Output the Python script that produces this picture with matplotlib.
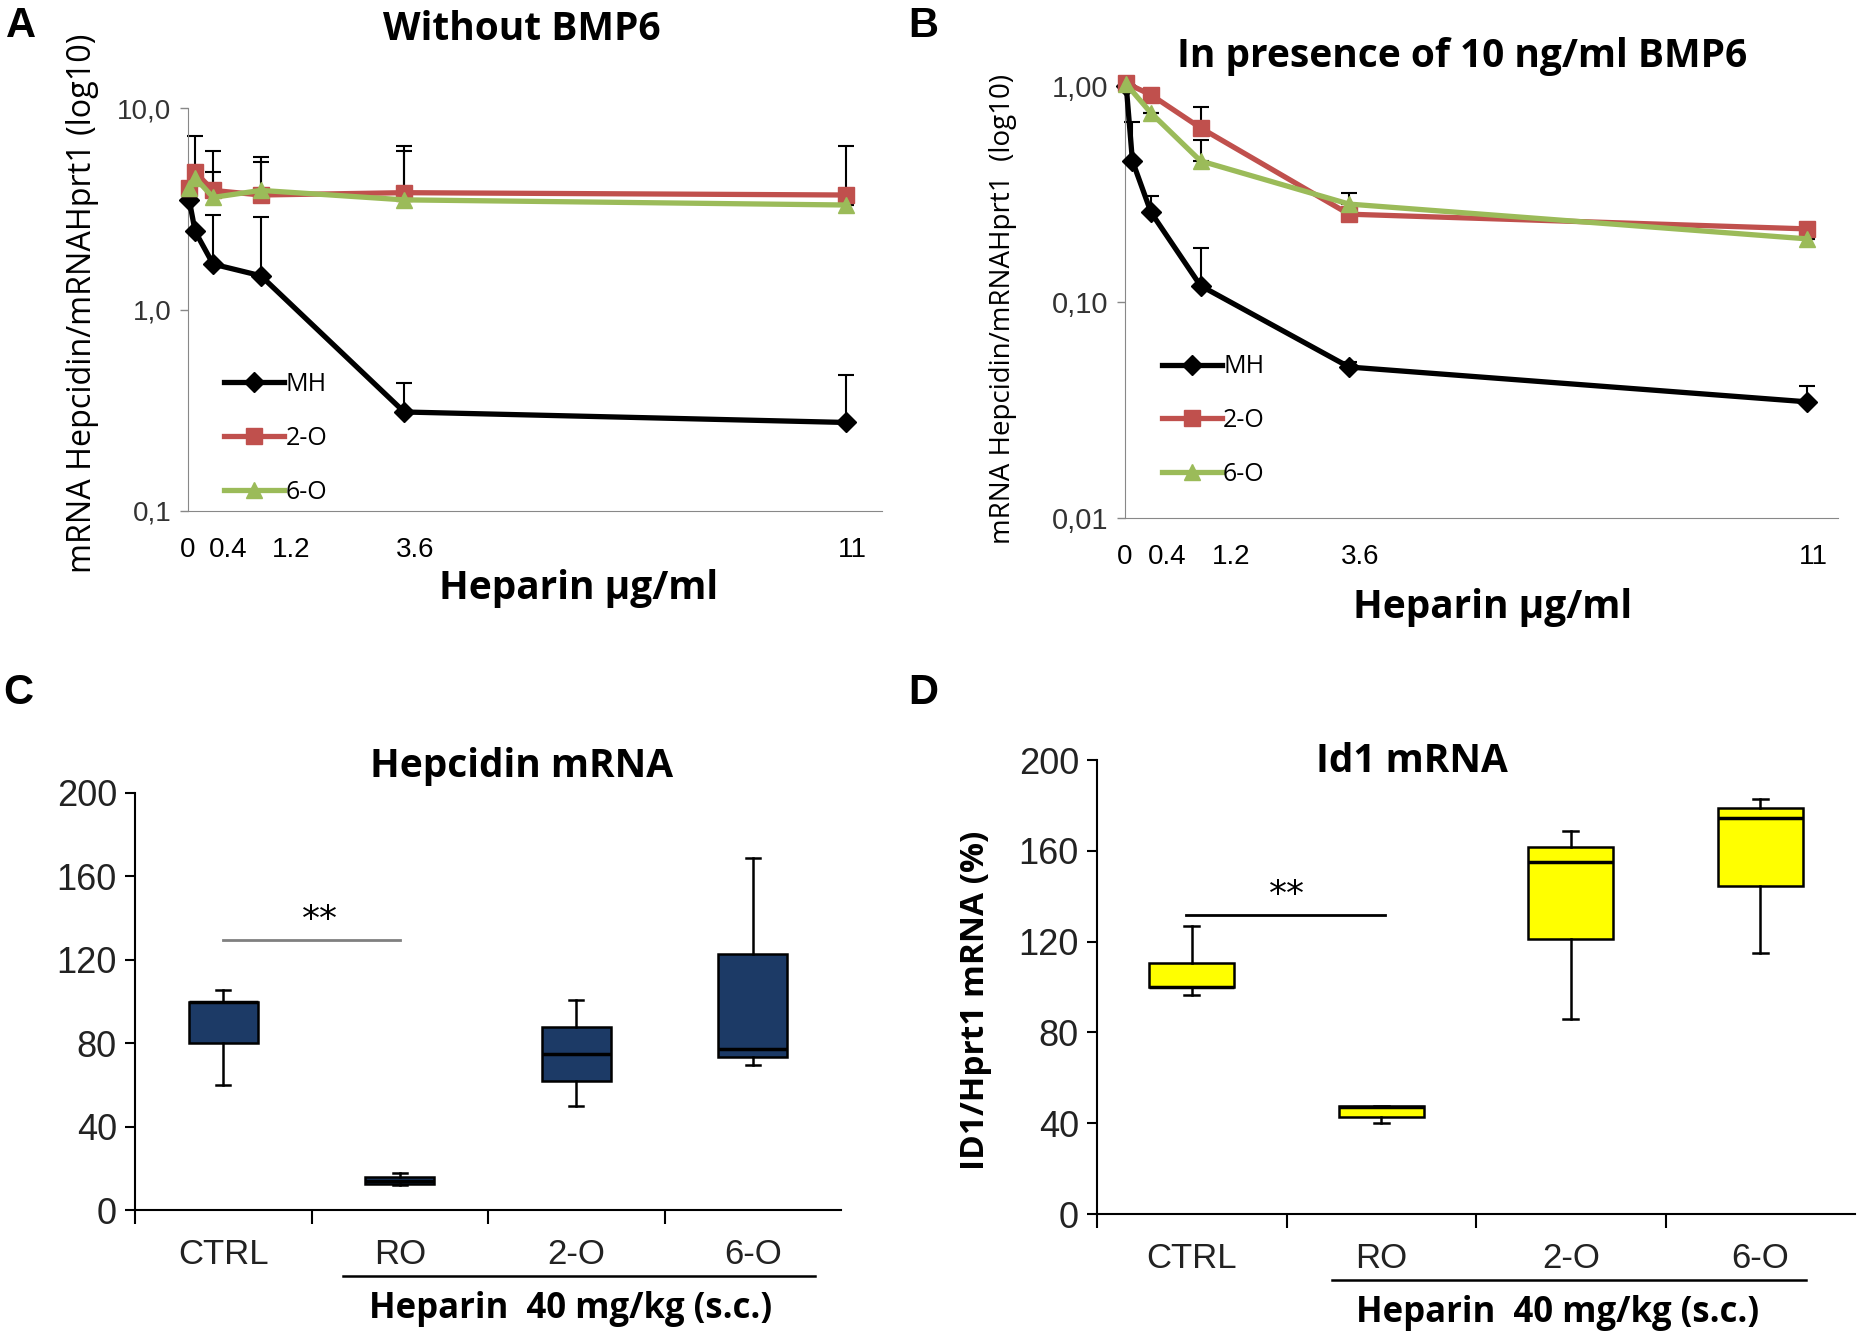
import matplotlib

matplotlib.use("Agg")
import matplotlib.pyplot as plt
import matplotlib.transforms as mtransforms
import numpy as np

# ---- panel A / B : dose response (log scale) ----
doses = [0, 0.1, 0.4, 1.2, 3.6, 11]
doses_b_mod = [0, 0.4, 1.2, 3.6, 11]
dose_labels = ["0", "0.4", "1.2", "3.6", "11"]
dose_label_pos = [-0.02, 0.66, 1.7, 3.78, 11.1]

a_mh = [3.5, 2.44, 1.68, 1.47, 0.31, 0.275]
a_mh_top = [np.nan, np.nan, 2.93, 2.89, 0.43, 0.475]
a_2o = [4.0, 4.8, 3.9, 3.7, 3.8, 3.7]
a_2o_top = [np.nan, 7.3, 6.15, 5.74, 6.5, 6.5]
a_6o = [4.0, 4.5, 3.6, 3.9, 3.5, 3.3]
a_6o_top = [np.nan, np.nan, 4.84, 5.42, 6.1, np.nan]

b_mh = [1.0, 0.45, 0.26, 0.119, 0.050, 0.0345]
b_mh_top = [np.nan, 0.68, 0.31, 0.178, 0.053, 0.041]
b_2o = [1.03, 0.91, 0.64, 0.255, 0.218]
b_2o_top = [np.nan, np.nan, 0.80, np.nan, np.nan]
b_6o = [1.02, 0.75, 0.45, 0.284, 0.196]
b_6o_top = [np.nan, np.nan, 0.56, 0.32, np.nan]

# ---- panel C / D : box plots ----
groups = ["CTRL", "RO", "2-O", "6-O"]
# whislo, q1, med, q3, whishi
c_stats = [(60, 80, 100, 100, 105.5), (12, 12.5, 14, 15.8, 17.7),
           (50, 62, 75, 88, 100.5), (69.5, 73.5, 77, 123, 169)]
d_stats = [(96.3, 100, 100, 110.4, 127), (40, 42.8, 47, 47.6, 47.6),
           (85.8, 121.3, 155.2, 161.8, 168.7), (115, 144.6, 174.4, 179, 182.8)]

W, H = 1861, 1343
NARROW = ["Liberation Sans Narrow", "Liberation Sans"]
TITLE = ["Open Sans", "DejaVu Sans"]
RED, GREEN = "#C0504D", "#9BBB59"


def px_axes(fig, left, right, top, bottom):
    return fig.add_axes([left / W, 1 - bottom / H, (right - left) / W, (bottom - top) / H])


def ftext(fig, x, y, s, **kw):
    fig.text(x / W, 1 - y / H, s, ha=kw.pop("ha", "center"), va=kw.pop("va", "center"), **kw)


def dose_panel(ax, mh, mh_top, o2, o2_top, o6, o6_top, x_mod, ylim, yticks, ylabels, xmax, yfs):
    series = [(doses, mh, mh_top, "k", "D", 10, "MH"),
              (x_mod, o2, o2_top, RED, "s", 11, "2-O"),
              (x_mod, o6, o6_top, GREEN, "^", 12, "6-O")]
    for x, y, top, col, mk, ms, lab in series:
        y = np.asarray(y)
        up = np.nan_to_num(np.asarray(top) - y, nan=0.0)
        ax.errorbar(x, y, yerr=[np.zeros_like(y), up], fmt="none", ecolor="k",
                    elinewidth=1.5, capsize=6, capthick=1.5, zorder=2, clip_on=False)
    for x, y, top, col, mk, ms, lab in series:
        ax.plot(x, y, color=col, lw=3.8, marker=mk, ms=ms, mec=col, mfc=col,
                label=lab, zorder=3, clip_on=False)
    ax.set_yscale("log")
    ax.set_ylim(*ylim)
    ax.set_xlim(0, xmax)
    ax.set_yticks(yticks)
    ax.set_yticklabels(ylabels, family=NARROW, fontsize=yfs, color="#333333")
    ax.minorticks_off()
    ax.set_xticks(dose_label_pos)
    ax.set_xticklabels(dose_labels, family=NARROW, fontsize=20)
    ax.tick_params(axis="x", length=0, pad=19)
    ax.tick_params(axis="y", length=6, width=1, color="#888888", pad=6)
    for s in ("top", "right"):
        ax.spines[s].set_visible(False)
    ax.spines["left"].set_color("#888888")
    ax.spines["bottom"].set_color("#888888")
    leg = ax.legend(loc="lower left", bbox_to_anchor=(0.02, -0.04), frameon=False,
                    labelspacing=1.15, handlelength=2.4, handletextpad=0.05,
                    prop={"family": TITLE, "size": 18})
    return leg


def box_panel(ax, stats, color, widths, caps):
    data = [dict(whislo=a, q1=b, med=c, q3=d, whishi=e, label=g)
            for (a, b, c, d, e), g in zip(stats, groups)]
    ax.bxp(data, positions=[1, 2, 3, 4], widths=widths, showfliers=False,
           patch_artist=True, capwidths=caps,
           boxprops=dict(facecolor=color, edgecolor="k", lw=1.8),
           medianprops=dict(color="k", lw=2.5),
           whiskerprops=dict(color="k", lw=1.8), capprops=dict(color="k", lw=1.8))
    ax.set_xlim(0.5, 4.5)
    ax.set_ylim(0, 200)
    ax.set_yticks([0, 40, 80, 120, 160, 200])
    ax.set_yticklabels(["0", "40", "80", "120", "160", "200"], family=NARROW, fontsize=26,
                       color="#222222")
    ax.set_xticks([1, 2, 3, 4])
    ax.set_xticklabels(groups, family=NARROW, fontsize=25, color="#222222")
    ax.set_xticks([0.5, 1.5, 2.5, 3.5], minor=True)
    ax.tick_params(axis="x", which="major", length=0, pad=20)
    ax.tick_params(axis="x", which="minor", length=10, width=1.5, direction="out")
    ax.tick_params(axis="y", length=7, width=1.5, pad=6)
    for s in ("top", "right"):
        ax.spines[s].set_visible(False)
    ax.spines["left"].set_linewidth(1.5)
    ax.spines["bottom"].set_linewidth(1.5)


fig = plt.figure(figsize=(W / 100, H / 100), dpi=100)

axA = px_axes(fig, 188, 882, 108, 511)
dose_panel(axA, a_mh, a_mh_top, a_2o, a_2o_top, a_6o, a_6o_top, doses,
           (0.1, 10), [0.1, 1, 10], ["0,1", "1,0", "10,0"], 11.6, 20)

axB = px_axes(fig, 1125, 1838, 86, 518)
dose_panel(axB, b_mh, b_mh_top, b_2o, b_2o_top, b_6o, b_6o_top, doses_b_mod,
           (0.01, 1), [0.01, 0.1, 1], ["0,01", "0,10", "1,00"], 11.5, 21)
axB.get_legend().set_bbox_to_anchor((0.02, 0.02))

axC = px_axes(fig, 135, 841, 793, 1210)
box_panel(axC, c_stats, "#1c3a66", 0.39, 0.08)
axC.plot([1, 2], [129.5, 129.5], color="#808080", lw=2)
axC.text(1.55, 131, "**", ha="center", va="bottom", fontsize=26)

axD = px_axes(fig, 1097, 1855, 760, 1214)
box_panel(axD, d_stats, "#ffff00", 0.45, 0.08)
axD.plot([0.97, 2.02], [131.5, 131.5], color="k", lw=2)
axD.text(1.5, 133, "**", ha="center", va="bottom", fontsize=26)

for ax, x0, x1, yl, yt, xt in [(axC, 1.68, 4.35, -0.158, -0.237, 2.97),
                               (axD, 1.74, 4.24, -0.145, -0.218, 2.93)]:
    tr = mtransforms.blended_transform_factory(ax.transData, ax.transAxes)
    ax.plot([x0, x1], [yl, yl], color="k", lw=1.8, transform=tr, clip_on=False)
    ax.text(xt, yt, "Heparin  40 mg/kg (s.c.)", transform=tr, ha="center", va="center",
            family=TITLE, fontsize=25, fontweight="bold")

# titles, axis labels, panel letters
ftext(fig, 522, 30, "Without BMP6", family=TITLE, fontsize=28, fontweight="bold")
ftext(fig, 1462, 57, "In presence of 10 ng/ml BMP6", family=TITLE, fontsize=28, fontweight="bold")
ftext(fig, 522, 766, "Hepcidin mRNA", family=TITLE, fontsize=28, fontweight="bold")
ftext(fig, 1412, 761, "Id1 mRNA", family=TITLE, fontsize=28, fontweight="bold")
ftext(fig, 579, 588, "Heparin µg/ml", family=TITLE, fontsize=28, fontweight="bold")
ftext(fig, 1493, 608, "Heparin µg/ml", family=TITLE, fontsize=28, fontweight="bold")
ftext(fig, 83, 303, "mRNA Hepcidin/mRNAHprt1 (log10)", family=TITLE, fontsize=23.3, rotation=90)
ftext(fig, 1003, 309, "mRNA Hepcidin/mRNAHprt1  (log10)", family=TITLE, fontsize=20, rotation=90)
ftext(fig, 976, 1000, "ID1/Hprt1 mRNA (%)", family=TITLE, fontsize=24, fontweight="bold",
      rotation=90)
for letter, x, y in [("A", 21, 26), ("B", 923, 26), ("C", 18, 693), ("D", 923, 693)]:
    ftext(fig, x, y, letter, family=["Liberation Sans", "DejaVu Sans"], fontsize=30,
          fontweight="bold")

fig.savefig("out.png", dpi=100)
